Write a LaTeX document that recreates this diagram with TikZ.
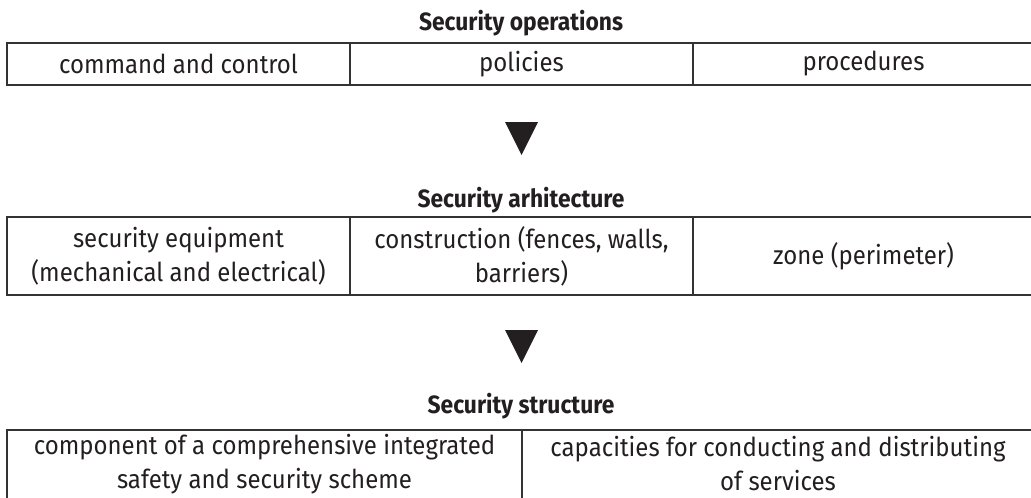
\documentclass[tikz,border=0pt]{standalone}
\usepackage{fontspec}
\newfontfamily\probefont{Fira Sans}
\newlength\probew
\settowidth\probew{\probefont\fontsize{26}{34}\selectfont command and control}
\pgfmathsetmacro\bodystretch{239/(\probew/1pt)}
\settowidth\probew{\probefont\bfseries\fontsize{25}{30}\selectfont Security operations}
\pgfmathsetmacro\ttlstretch{204/(\probew/1pt)}
\edef\tmpsetfonts{%
  \noexpand\setmainfont{Fira Sans}[FakeStretch=\bodystretch]%
  \noexpand\newfontfamily\noexpand\ttlfont{Fira Sans}[FakeStretch=\ttlstretch]}
\tmpsetfonts
\definecolor{ink}{HTML}{231F20}
\definecolor{rulec}{HTML}{333333}
\begin{document}
\begin{tikzpicture}[x=1pt,y=-1pt,
  cell/.style={draw=rulec, line width=2.2pt, inner sep=0pt, align=center,
    font=\fontsize{26}{34}\selectfont, text=ink},
  celltext/.style={inner sep=0pt, align=center, font=\fontsize{26}{34}\selectfont, text=ink},
  ttl/.style={font=\ttlfont\bfseries\fontsize{25}{30}\selectfont, text=ink, anchor=base},
  tri/.style={fill=ink, draw=none}]
\useasboundingbox (0,0) rectangle (1031,498);

% Security operations
\node[ttl] (t1) at (521,30) {Security operations};
\node[cell, minimum width=343pt, minimum height=42pt] (a1) at (178.5,64) {command and control};
\node[cell, minimum width=343pt, minimum height=42pt] (a2) at (521.5,64) {policies};
\node[cell, minimum width=341pt, minimum height=42pt] (a3) at (863.5,64) {procedures};

\fill[tri] (505,122) -- (538,122) -- (521.5,155) -- cycle;

% Security architecture
\node[ttl] (t2) at (521,207) {Security arhitecture};
\node[cell, minimum width=343pt, minimum height=78pt] (b1) at (178.5,256) {security equipment\\(mechanical and electrical)};
\node[cell, minimum width=343pt, minimum height=78pt] (b2) at (521.5,256) {construction (fences, walls,\\barriers)};
\node[cell, minimum width=341pt, minimum height=78pt] (b3) at (863.5,256) {zone (perimeter)};

\fill[tri] (505,330) -- (538,330) -- (521.5,363) -- cycle;

% Security structure (box runs past the lower edge)
\node[ttl] (t3) at (521,413) {Security structure};
\node[cell, minimum width=515pt, minimum height=90pt] (c1) at (264.5,475) {};
\node[cell, minimum width=512pt, minimum height=90pt] (c2) at (778,475) {};
\node[celltext] (c1t) at (264.5,464) {component of a comprehensive integrated\\safety and security scheme};
\node[celltext] (c2t) at (778,464) {capacities for conducting and distributing\\of services};
\end{tikzpicture}
\end{document}
